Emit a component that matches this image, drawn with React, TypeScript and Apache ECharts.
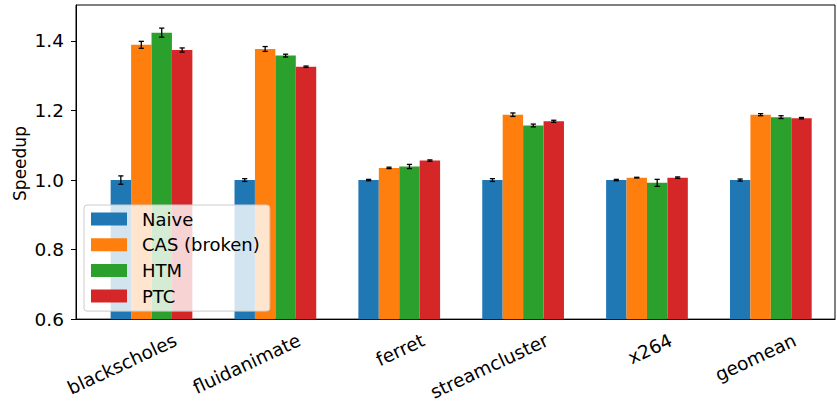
import React, { useEffect, useRef } from 'react';
import * as echarts from 'echarts';

const categories = ['blackscholes', 'fluidanimate', 'ferret', 'streamcluster', 'x264', 'geomean'];
const seriesNames = ['Naive', 'CAS (broken)', 'HTM', 'PTC'];
const colors = ['#1f77b4', '#ff7f0e', '#2ca02c', '#d62728'];

const naive = [1.0, 1.0, 1.0, 1.0, 1.0, 1.0];
const cas = [1.389, 1.377, 1.035, 1.188, 1.007, 1.188];
const htm = [1.424, 1.358, 1.039, 1.157, 0.992, 1.181];
const ptc = [1.374, 1.326, 1.056, 1.169, 1.007, 1.178];

const naiveErr = [0.012, 0.004, 0.002, 0.004, 0.002, 0.003];
const casErr = [0.010, 0.007, 0.002, 0.005, 0.001, 0.003];
const htmErr = [0.013, 0.004, 0.006, 0.004, 0.010, 0.004];
const ptcErr = [0.006, 0.002, 0.002, 0.003, 0.002, 0.002];

const yTicks = [0.6, 0.8, 1.0, 1.2, 1.4];

const FONT = 'DejaVu Sans';
const BAR_UNITS = 0.165;
const X_MIN = -0.6096;
const X_MAX = 5.518;
const LABEL_SHIFT = 0.194;

export default function App() {
  const ref = useRef<HTMLDivElement>(null);
  useEffect(() => {
    const chart = echarts.init(ref.current!, null, { renderer: 'svg' });
    const values = [naive, cas, htm, ptc];
    const errs = [naiveErr, casErr, htmErr, ptcErr];
    const series: any[] = [];
    values.forEach((vals, k) => {
      const off = (k - 1.5) * BAR_UNITS;
      series.push({
        type: 'bar',
        name: seriesNames[k],
        data: vals.map((v, i) => [i + off, v]),
        barWidth: 20.4,
        barGap: '-100%',
        itemStyle: { color: colors[k] },
        z: 2,
      });
    });
    values.forEach((vals, k) => {
      const off = (k - 1.5) * BAR_UNITS;
      series.push({
        type: 'custom',
        name: 'err-' + seriesNames[k],
        data: vals.map((v, i) => [i + off, v, errs[k][i]]),
        encode: { x: 0, y: 1 },
        z: 10,
        renderItem: (params: any, api: any) => {
          const x = api.value(0);
          const y = api.value(1);
          const e = api.value(2);
          const p1 = api.coord([x, y + e]);
          const p2 = api.coord([x, y - e]);
          const hw = 2.6;
          const st = { stroke: '#000', lineWidth: 1.3 };
          return {
            type: 'group',
            children: [
              { type: 'line', shape: { x1: p1[0], y1: p1[1], x2: p2[0], y2: p2[1] }, style: st },
              { type: 'line', shape: { x1: p1[0] - hw, y1: p1[1], x2: p1[0] + hw, y2: p1[1] }, style: st },
              { type: 'line', shape: { x1: p2[0] - hw, y1: p2[1], x2: p2[0] + hw, y2: p2[1] }, style: st },
            ],
          };
        },
      });
    });

    const option: any = {
      animation: false,
      textStyle: { fontFamily: FONT },
      grid: {
        left: 76,
        right: 2,
        top: 5,
        bottom: 81,
        show: true,
        borderColor: '#000',
        borderWidth: 1,
        backgroundColor: 'transparent',
      },
      legend: {
        data: seriesNames,
        orient: 'vertical',
        left: 84,
        top: 205,
        itemWidth: 36,
        itemHeight: 13,
        itemGap: 7.7,
        icon: 'rect',
        padding: [5, 10, 6, 7],
        backgroundColor: 'rgba(255,255,255,0.8)',
        borderColor: '#cccccc',
        borderWidth: 1,
        borderRadius: 3,
        textStyle: { fontSize: 18, fontFamily: FONT, color: '#000', padding: [0, 0, 0, 10] },
      },
      xAxis: {
        type: 'value',
        min: X_MIN,
        max: X_MAX,
        splitLine: { show: false },
        axisLine: { show: true, onZero: false, lineStyle: { color: '#000', width: 1 } },
        axisTick: { show: false },
        axisLabel: {
          customValues: categories.map((_, i) => i + LABEL_SHIFT),
          formatter: (v: number) => categories[Math.round(v - LABEL_SHIFT)] ?? '',
          rotate: 25,
          margin: 20,
          fontSize: 18.5,
          color: '#000',
          fontFamily: FONT,
        },
      },
      yAxis: {
        type: 'value',
        min: 0.6,
        max: 1.5035,
        splitLine: { show: false },
        axisLine: { show: true, onZero: false, lineStyle: { color: '#000', width: 1 } },
        axisTick: { show: true, length: 5, customValues: yTicks, lineStyle: { color: '#000' } },
        axisLabel: {
          customValues: yTicks,
          formatter: (v: number) => v.toFixed(1),
          margin: 12,
          fontSize: 18.5,
          color: '#000',
          fontFamily: FONT,
        },
      },
      graphic: [
        {
          type: 'text',
          x: 20,
          y: 163.5,
          rotation: Math.PI / 2,
          style: {
            text: 'Speedup',
            fontSize: 17,
            fontFamily: FONT,
            fill: '#000',
            align: 'center',
            verticalAlign: 'middle',
          },
        },
      ],
      series,
    };
    chart.setOption(option);
    return () => chart.dispose();
  }, []);
  return <div ref={ref} style={{ width: 837, height: 403, position: 'absolute', left: 0, top: 0 }} />;
}
